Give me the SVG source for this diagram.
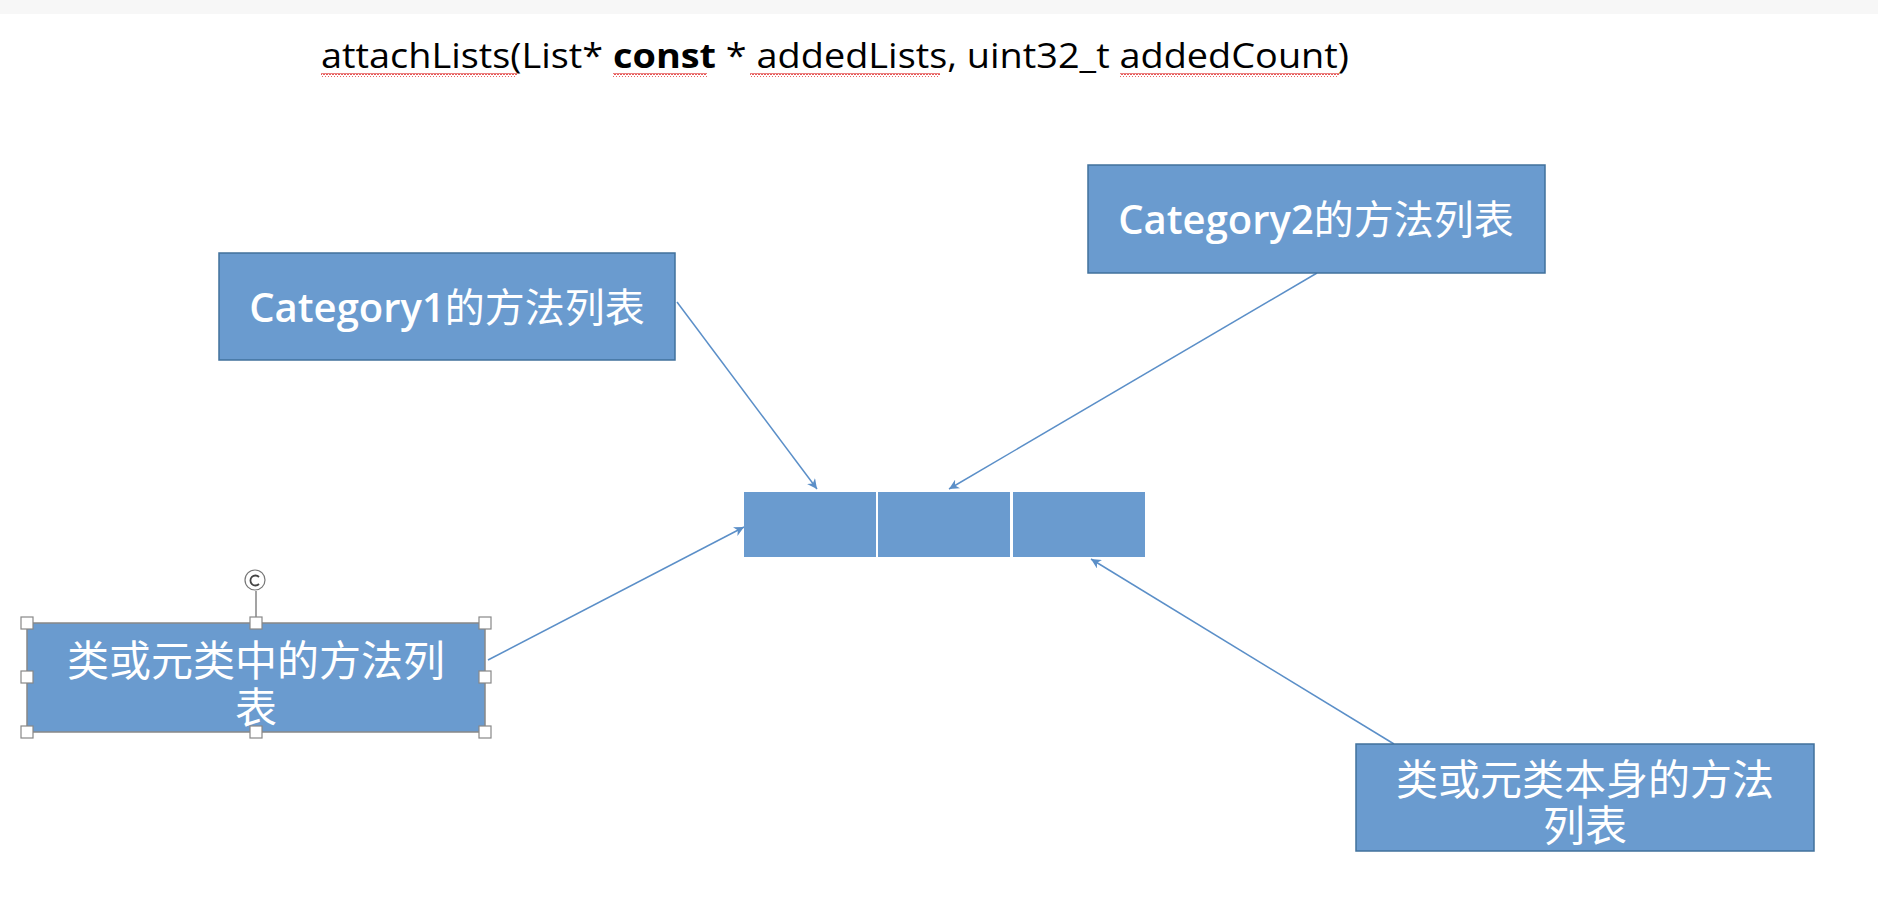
<svg xmlns="http://www.w3.org/2000/svg" width="1878" height="912" viewBox="0 0 1878 912">
<defs>
<style>
.box{fill:#6a9bcf;stroke:#41719c;stroke-width:1.5}
.cat{font-family:"Open Sans","Noto Sans",sans-serif;font-weight:600;font-size:40px;fill:#fff;text-anchor:middle}
.cjk{font-family:"Noto Sans CJK SC",sans-serif;font-size:42px;fill:#fff;text-anchor:middle}
.con{stroke:#5b8fc8;stroke-width:1.5;fill:none;marker-end:url(#ah)}
.h{fill:#fff;stroke:#888;stroke-width:1.2}
</style>
<marker id="ah" viewBox="0 0 10 10" refX="10" refY="5" markerWidth="10" markerHeight="10" orient="auto" markerUnits="userSpaceOnUse">
<path d="M0,0 L10,5 L0,10 L3,5 z" fill="#5b8fc8"/>
</marker>
<pattern id="wave" width="6" height="4" patternUnits="userSpaceOnUse">
<path d="M0,3 L1.5,0.5 L3,3 L4.5,0.5 L6,3" fill="none" stroke="#e03030" stroke-width="1"/>
</pattern>
</defs>
<rect x="0" y="0" width="1878" height="912" fill="#fff"/>
<rect x="0" y="0" width="1878" height="14" fill="#f7f7f7"/>
<g id="title">
<text x="321" y="68" font-family="Open Sans, sans-serif" font-size="34" fill="#000" textLength="1028" lengthAdjust="spacingAndGlyphs">attachLists(List* <tspan font-weight="bold">const</tspan> * addedLists, uint32_t addedCount)</text>
<rect x="321" y="73" width="196" height="4" fill="url(#wave)"/>
<rect x="613" y="73" width="94" height="4" fill="url(#wave)"/>
<rect x="750" y="73" width="190" height="4" fill="url(#wave)"/>
<rect x="1120" y="73" width="219" height="4" fill="url(#wave)"/>
</g>
<g id="connectors">
<line class="con" x1="677" y1="302" x2="817" y2="489"/>
<line class="con" x1="1317" y1="273" x2="949" y2="489"/>
<line class="con" x1="488" y1="660" x2="744" y2="527"/>
<line class="con" x1="1394" y1="744" x2="1091" y2="559"/>
</g>
<g id="array">
<rect x="744" y="492" width="132" height="65" fill="#6a9bcf"/>
<rect x="878" y="492" width="132" height="65" fill="#6a9bcf"/>
<rect x="1013" y="492" width="132" height="65" fill="#6a9bcf"/>
</g>
<g id="category1">
<rect class="box" x="219" y="253" width="456" height="107"/>
<text class="cat" x="447" y="322">Category1<tspan font-family="Noto Sans CJK SC" font-weight="normal">的方法列表</tspan></text>
</g>
<g id="category2">
<rect class="box" x="1088" y="165" width="457" height="108"/>
<text class="cat" x="1316" y="234">Category2<tspan font-family="Noto Sans CJK SC" font-weight="normal">的方法列表</tspan></text>
</g>
<g id="classMethods">
<rect x="27" y="623" width="458" height="109" fill="#6a9bcf" stroke="#888" stroke-width="1.5"/>
<text class="cjk"><tspan x="256" y="676">类或元类中的方法列</tspan><tspan x="256" y="723">表</tspan></text>
<line x1="256" y1="591" x2="256" y2="617" stroke="#666" stroke-width="1.2"/>
<circle cx="255" cy="580" r="10" fill="#fff" stroke="#777" stroke-width="1.2"/>
<path d="M259,577 A5,5 0 1 0 259,584" fill="none" stroke="#444" stroke-width="1.8"/>
<rect class="h" x="21" y="617" width="12" height="12"/>
<rect class="h" x="250" y="617" width="12" height="12"/>
<rect class="h" x="479" y="617" width="12" height="12"/>
<rect class="h" x="21" y="671" width="12" height="12"/>
<rect class="h" x="479" y="671" width="12" height="12"/>
<rect class="h" x="21" y="726" width="12" height="12"/>
<rect class="h" x="250" y="726" width="12" height="12"/>
<rect class="h" x="479" y="726" width="12" height="12"/>
</g>
<g id="selfMethods">
<rect class="box" x="1356" y="744" width="458" height="107"/>
<text class="cjk"><tspan x="1585" y="795">类或元类本身的方法</tspan><tspan x="1585" y="841">列表</tspan></text>
</g>
</svg>
